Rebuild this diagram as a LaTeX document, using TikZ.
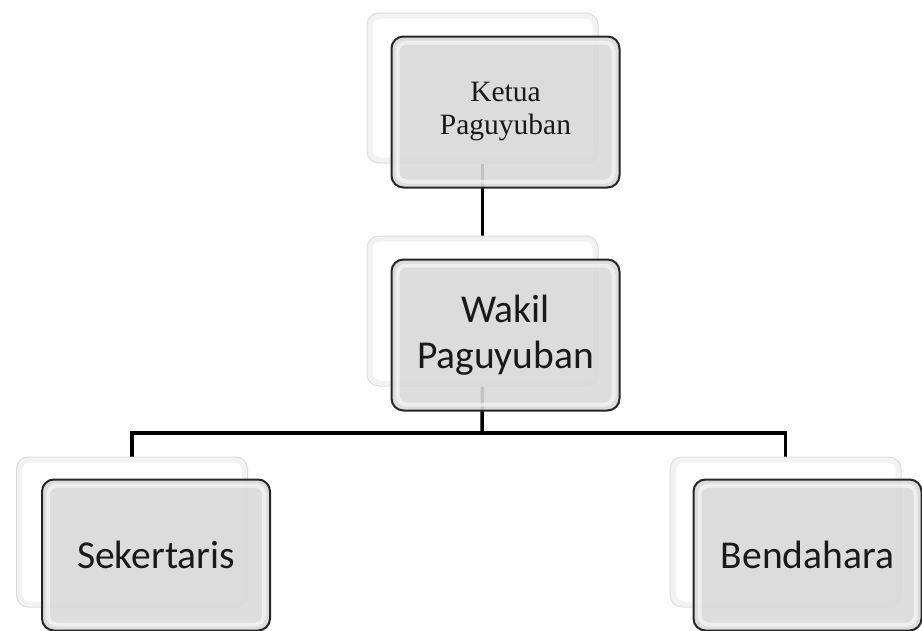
\documentclass[tikz,border=0pt]{standalone}
\usepackage{fontspec}
\setmainfont{Liberation Serif}
\newfontfamily\calibri{Carlito}
\usetikzlibrary{positioning,backgrounds}

\begin{document}
\begin{tikzpicture}[x=1pt,y=-1pt,
  back/.style = {draw=gray!28,fill=white,line width=1pt,rounded corners=12pt,
    minimum width=231pt,minimum height=150pt,inner sep=0pt,
    path picture={\draw[gray!10,line width=5pt,rounded corners=10pt]
      ([shift={(3pt,-3pt)}]path picture bounding box.north west) rectangle
      ([shift={(-3pt,3pt)}]path picture bounding box.south east);}},
  front/.style = {draw=black!85,line width=2pt,fill=gray!30,fill opacity=0.9,text opacity=1,
    rounded corners=12pt,minimum width=228pt,minimum height=151pt,inner sep=0pt,
    align=center,text=black!90,font=\calibri\fontsize{39.5}{46}\selectfont,
    path picture={\draw[white,opacity=0.55,line width=4pt,rounded corners=9pt]
      ([shift={(6pt,-6pt)}]path picture bounding box.north west) rectangle
      ([shift={(-6pt,6pt)}]path picture bounding box.south east);}},
  link/.style = {draw=black,line width=3.5pt}]

\useasboundingbox (0,0) rectangle (922,630);

% back boxes
\node[back] (k) at (482.5,88) {};
\node[back] (w) [below=72pt of k] {};
\node[back] (s) at (132,532) {};
\node[back] (b) at (785.5,532) {};

% front boxes
\node[front,font=\rmfamily\fontsize{29.5}{33}\selectfont] (kf) at ([shift={(23pt,-24pt)}]k) {Ketua\\Paguyuban};
\node[front] (wf) at ([shift={(23pt,-24pt)}]w) {Wakil\\Paguyuban};
\node[front] (sf) at ([shift={(24pt,-23pt)}]s) {Sekertaris};
\node[front] (bf) at ([shift={(22pt,-23pt)}]b) {Bendahara};

\coordinate (bus) at (482,433);

\begin{pgfonlayer}{background}
\path[link] (k.south) -- (w.north);
\path[link] (w.south) -- (bus);
\path[link] (s.north) |- (bus) -| (b.north);
\end{pgfonlayer}

\end{tikzpicture}
\end{document}
